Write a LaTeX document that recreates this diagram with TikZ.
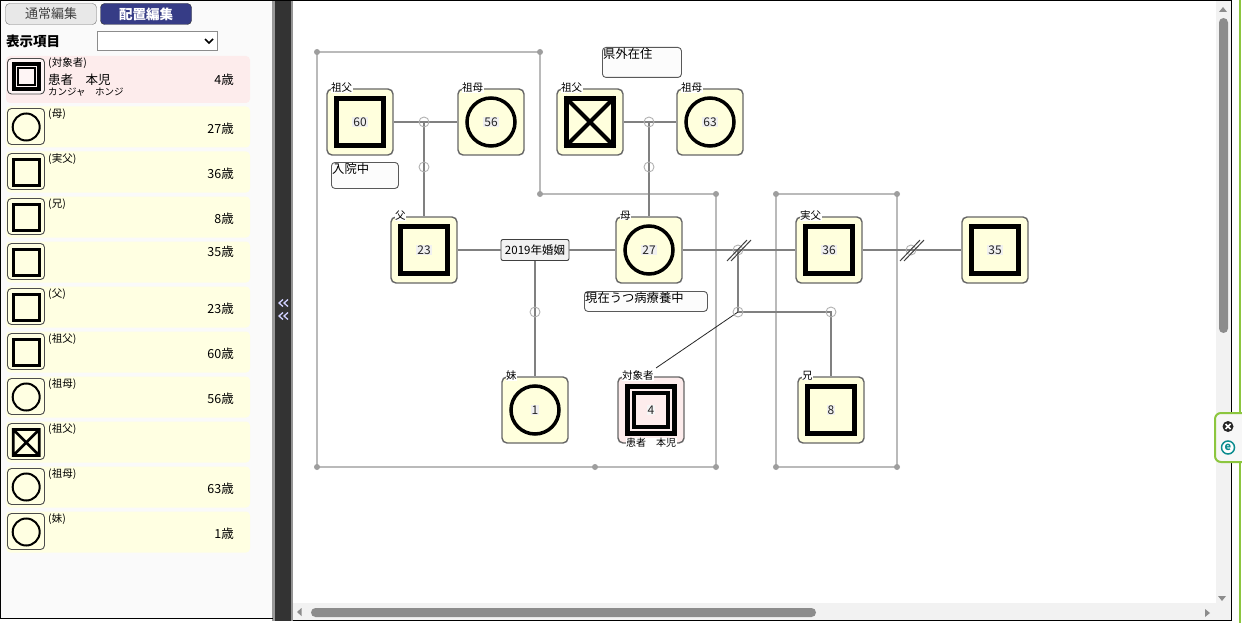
\documentclass[tikz,border=0pt]{standalone}
\usepackage{fontspec}
\setmainfont{Noto Sans CJK JP}
\usetikzlibrary{calc,positioning}
\definecolor{tileyel}{HTML}{FFFFDD}
\definecolor{rowyel}{HTML}{FFFFE2}
\definecolor{pinkbg}{HTML}{FDECEC}
\definecolor{panelbg}{HTML}{FAFAFA}
\definecolor{navybtn}{HTML}{363C86}
\definecolor{sbgray}{HTML}{8C8C8C}
\definecolor{esetgreen}{HTML}{8CC63F}
\definecolor{esetteal}{HTML}{0B8C8F}
\newcommand{\fsz}[1]{\fontsize{#1}{#1}\selectfont}
\begin{document}
\begin{tikzpicture}[x=1pt,y=-1pt,
  tile/.style={draw=black!60,line width=1.4,rounded corners=5,fill=tileyel,minimum width=66,minimum height=66,inner sep=0},
  sqmark/.style={draw=black,line width=4.5,minimum size=47,inner sep=0},
  cimark/.style={circle,draw=black,line width=3.5,minimum size=48,inner sep=0},
  num/.style={fill=black!6,inner sep=1,font=\fsz{12},text=black!85},
  tag/.style={fill=white,inner sep=0.5,font=\fsz{10.5},anchor=west},
  rel/.style={draw=black!50,line width=1.6},
  jn/.style={circle,draw=black!30,line width=0.9,minimum size=10,inner sep=0},
  grp/.style={draw=black!27,line width=1.8},
  note/.style={draw=black!65,line width=0.9,rounded corners=3.5,fill=black!1,anchor=north west,inner sep=0},
  notetxt/.style={anchor=north west,inner sep=1,font=\fsz{12.3}},
  rowtxt/.style={anchor=west,inner sep=0,font=\fsz{10.5}},
  agetxt/.style={anchor=east,inner sep=0,font=\fsz{12.5}}]
\useasboundingbox (0,0) rectangle (1242,623);
\newcommand{\Member}[4]{%
  \node[tile] (#1) at (#2) {};
  \node[#3] (#1m) at (#1) {};
  \node[num] at (#1) {#4};}

% left panel
\fill[panelbg] (0,0) rectangle (273,618);
\node[draw=black!55,fill=black!9,rounded corners=4,minimum width=91,minimum height=21,inner sep=0,font=\fsz{13},text=black!75] (btnnormal) at (51,14) {通常編集};
\node[draw=black!80,fill=navybtn,rounded corners=4,minimum width=91,minimum height=21,inner sep=0,font=\fsz{13.5}\bfseries,text=white] (btnlayout) at (146,14) {配置編集};
\node[anchor=west,inner sep=0,font=\fsz{13.5}\bfseries] (showlbl) at (6,41) {表示項目};
\node[draw=black!45,fill=white,minimum width=120,minimum height=19,inner sep=0] (sel) at (157,41) {};
\draw[line width=1.6] (205,39) -- (209,43) -- (213,39);

\fill[pinkbg,rounded corners=4] (6,56) rectangle (250,103);
\draw[black!70,fill=white!50!pinkbg,rounded corners=4,line width=0.9] (7.5,58.5) rectangle (44.5,94);
\draw[line width=4] (13.7,63.8) rectangle (38.7,88.8);
\draw[line width=2] (17.7,67.8) rectangle (34.7,84.8);
\node[rowtxt] (rel0a) at (48,63.5) {(対象者)};
\node[anchor=west,inner sep=0,font=\fsz{12.5}] (name0) at (48,79.5) {患者　本児};
\node[anchor=west,inner sep=0,font=\fsz{9.5}] (kana0) at (48,92) {カンジャ　ホンジ};
\node[agetxt] (age0a) at (234,80) {4歳};

\foreach \k in {0,...,9} {
  \pgfmathsetmacro{\ty}{106.5+45*\k}
  \fill[rowyel,rounded corners=4] (6,\ty) rectangle (250,\ty+41);
  \draw[black!70,fill=rowyel,rounded corners=4,line width=0.9] (7.5,\ty+2) rectangle (44.5,\ty+38);
}
\foreach \k in {1,2,3,4,5} {
  \pgfmathsetmacro{\ty}{106.5+45*\k}
  \draw[line width=2.7] (13.2,\ty+8) rectangle (39.2,\ty+34);
}
\foreach \k in {0,6,8,9} {
  \pgfmathsetmacro{\ty}{106.5+45*\k}
  \draw[line width=2] (26.2,\ty+20.5) circle (13.5);
}
\draw[line width=2.7] (13.2,429.5) rectangle (39.2,455.5) (13.2,429.5) -- (39.2,455.5) (39.2,429.5) -- (13.2,455.5);
\foreach \k/\rl/\ag in {0/母/27歳,1/実父/36歳,2/兄/8歳,4/父/23歳,5/祖父/60歳,6/祖母/56歳,7/祖父/,8/祖母/63歳,9/妹/1歳} {
  \pgfmathsetmacro{\ty}{106.5+45*\k}
  \node[rowtxt] (rel\k) at (48,\ty+8) {(\rl)};
  \node[agetxt] (age\k) at (234,\ty+22.5) {\ag};
}
\node[agetxt] (age3) at (234,251.5) {35歳};

% splitter
\fill[black!40] (272,0) rectangle (275,621);
\fill[black!80] (275,0) rectangle (291,621);
\fill[black!42] (291,0) rectangle (293,621);
\foreach \cy in {303,316}
  \foreach \cx in {279,284}
    \draw[blue!18!white,line width=1.3] (\cx+4,\cy-3.5) -- (\cx,\cy) -- (\cx+4,\cy+3.5);

% main area
\fill[white] (293,0) rectangle (1231,621);
\draw[grp] (317,52) -- (540,52) -- (540,194) -- (716,194) -- (716,467) -- (317,467) -- cycle;
\draw[grp] (776,194) rectangle (897,467);
\foreach \p in {(317,52),(540,52),(540,194),(716,194),(716,467),(595,467),(317,467),(776,194),(897,194),(776,467),(897,467)}
  \fill[black!38] \p circle (3);

\Member{gfa}{360,122}{sqmark}{60}
\Member{gma}{491,122}{cimark}{56}
\node[tile] (gfb) at (590,122) {};
\node[sqmark] (gfbm) at (gfb) {};
\draw[line width=4,shorten <=1.5,shorten >=1.5] (gfbm.north west) -- (gfbm.south east);
\draw[line width=4,shorten <=1.5,shorten >=1.5] (gfbm.north east) -- (gfbm.south west);
\Member{gmb}{710,122}{cimark}{63}
\Member{fa}{424,250}{sqmark}{23}
\Member{mo}{649,250}{cimark}{27}
\Member{rf}{829,250}{sqmark}{36}
\Member{rfw}{995,250}{sqmark}{35}
\Member{sis}{535,410}{cimark}{1}
\Member{bro}{831,410}{sqmark}{8}
\node[tile,fill=pinkbg] (pt) at (651,410) {};
\node[draw=black,line width=5,minimum size=47,inner sep=0] (ptm) at (pt) {};
\node[draw=black,line width=4,minimum size=34,inner sep=0] (ptn) at (pt) {};
\node[num,fill=black!4] at (pt) {4};

\node[tag] at ($(gfa.north west)+(4,-1)$) {祖父};
\node[tag] at ($(gma.north west)+(4,-1)$) {祖母};
\node[tag] at ($(gfb.north west)+(4,-1)$) {祖父};
\node[tag] at ($(gmb.north west)+(4,-1)$) {祖母};
\node[tag] at ($(fa.north west)+(4,-1)$) {父};
\node[tag] at ($(mo.north west)+(4,-1)$) {母};
\node[tag] at ($(rf.north west)+(4,-1)$) {実父};
\node[tag] at ($(sis.north west)+(4,-1)$) {妹};
\node[tag] at ($(pt.north west)+(4,-1)$) {対象者};
\node[tag] at ($(bro.north west)+(4,-1)$) {兄};
\node[tag,anchor=center,font=\fsz{10}] (ptname) at ($(pt.south)+(0,-1)$) {患者　本児};

\node[note,minimum width=67,minimum height=26] (nhosp) at (331,162) {};
\node[notetxt] at (nhosp.north west) {入院中};
\node[note,minimum width=79,minimum height=30] (nout) at (602,47) {};
\node[notetxt] at (nout.north west) {県外在住};
\node[note,minimum width=123,minimum height=20] (nmo) at (584,291) {};
\node[notetxt] at (nmo.north west) {現在うつ病療養中};
\node[draw=black!75,fill=black!5,rounded corners=2,line width=0.9,minimum width=68,minimum height=21,inner sep=1,font=\fsz{11.5}] (mar) at (535,250) {2019年婚姻};

\coordinate (ja) at (424,122);
\coordinate (jb) at (649,122);
\coordinate (jd) at (738,250);
\coordinate (je) at (738,312);
\coordinate (jf) at (831,312);
\coordinate (ptlink) at (656,368);
\draw[rel] (gfa) -- (gma);
\draw[rel] (gfb) -- (gmb);
\draw[rel] (ja) -- (fa);
\draw[rel] (jb) -- (mo);
\draw[rel] (fa) -- (mar);
\draw[rel] (mar) -- (mo);
\draw[rel] (mar) -- (sis);
\draw[rel] (mo) -- (rf);
\draw[rel] (rf) -- (rfw);
\draw[rel] (jd) -- (je) -- (jf) -- (bro);
\draw[black!85,line width=0.8] (je) -- (ptlink);
\foreach \j [count=\i] in {(ja),(424,167),(jb),(649,167),(535,312),(jd),(je),(jf),(911,250)}
  \node[jn] (jn\i) at \j {};
\foreach \sx in {727,731,900,904}
  \draw[black!75,line width=1] (\sx,261) -- (\sx+20,240);

% scrollbars and frame
\fill[black!5] (1216,1) rectangle (1231,603);
\fill[black!5] (293,603) rectangle (1231,620);
\fill[sbgray,rounded corners=4.5] (1219,18) rectangle (1228,333);
\fill[sbgray,rounded corners=4.5] (311,608) rectangle (816,617);
\fill[sbgray] (1219,12) -- (1227,12) -- (1223,7) -- cycle;
\fill[sbgray] (1218,596) -- (1226,596) -- (1222,601) -- cycle;
\fill[sbgray] (301.5,608) -- (301.5,616) -- (297,612) -- cycle;
\fill[sbgray] (1205,609) -- (1205,617) -- (1210,613) -- cycle;
\draw[black,line width=1] (0,0.5) -- (1232,0.5);
\draw[black,line width=1] (0.5,0) -- (0.5,618.5) -- (273,618.5);
\draw[black,line width=1] (293,620.5) -- (1232,620.5);
\draw[black,line width=1] (1231.5,0) -- (1231.5,621);
\draw[esetgreen,line width=2] (1240,0) -- (1240,623);
\draw[esetgreen,line width=2,fill=black!3,rounded corners=6] (1244,413) -- (1215,413) -- (1215,462) -- (1244,462);
\fill[black!85] (1228,426.5) circle (5.5);
\draw[white,line width=1.5] (1225.5,424) -- (1230.5,429) (1225.5,429) -- (1230.5,424);
\draw[esetteal,line width=1.5,fill=white] (1228,447.5) circle (6.5);
\node[text=esetteal,inner sep=0,font=\fsz{11}\bfseries] (eicon) at (1228,447) {e};
\end{tikzpicture}
\end{document}
